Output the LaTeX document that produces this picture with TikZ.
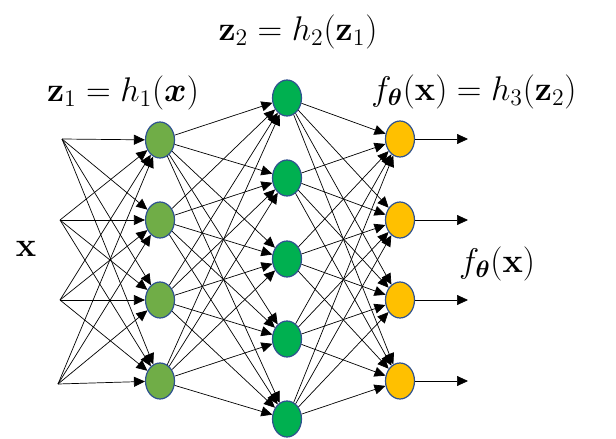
\documentclass[tikz,border=0pt]{standalone}
\usepackage{amsmath}
\usetikzlibrary{shapes.geometric,arrows.meta}

\definecolor{rimblue}{RGB}{47,82,143}
\definecolor{hidgreen}{RGB}{112,173,71}
\definecolor{midgreen}{RGB}{0,176,80}
\definecolor{outgold}{RGB}{255,192,0}

\tikzset{
  neuron/.style={ellipse, draw=rimblue, line width=1.2pt, minimum width=29pt, minimum height=36pt, inner sep=0pt},
  link/.style={-{Triangle[length=11pt,width=10pt]}, line width=0.7pt},
  lbl/.style={font=\fontsize{22}{26}\selectfont, scale=1.65, inner sep=0pt}
}

\begin{document}
\begin{tikzpicture}[x=1pt,y=-1pt]  % 以像素为单位, y 轴向下

    \useasboundingbox (0,0) rectangle (616,439);

    % 输入点
    \coordinate (in1) at (62,139);
    \coordinate (in2) at (60,220);
    \coordinate (in3) at (60,300);
    \coordinate (in4) at (58,384);

    % 第一隐藏层
    \node[neuron, fill=hidgreen] (a1) at (160,140) {};
    \node[neuron, fill=hidgreen] (a2) at (160,220) {};
    \node[neuron, fill=hidgreen] (a3) at (160,300) {};
    \node[neuron, fill=hidgreen] (a4) at (160,381) {};

    % 第二隐藏层
    \node[neuron, fill=midgreen] (b1) at (287,98) {};
    \node[neuron, fill=midgreen] (b2) at (287,178) {};
    \node[neuron, fill=midgreen] (b3) at (287,259) {};
    \node[neuron, fill=midgreen] (b4) at (287,339) {};
    \node[neuron, fill=midgreen] (b5) at (287,419) {};

    % 输出层
    \node[neuron, fill=outgold] (c1) at (400,139) {};
    \node[neuron, fill=outgold] (c2) at (400,220) {};
    \node[neuron, fill=outgold] (c3) at (400,300) {};
    \node[neuron, fill=outgold] (c4) at (400,381) {};

    % 输出箭头终点
    \coordinate (out1) at (468,139);
    \coordinate (out2) at (468,220);
    \coordinate (out3) at (468,300);
    \coordinate (out4) at (468,381);

    % 连线
    \foreach \i in {1,...,4} \foreach \j in {1,...,4} \draw[link] (in\i) -- (a\j);
    \foreach \i in {1,...,4} \foreach \j in {1,...,5} \draw[link] (a\i) -- (b\j);
    \foreach \i in {1,...,5} \foreach \j in {1,...,4} \draw[link] (b\i) -- (c\j);
    \foreach \i in {1,...,4} \draw[link] (c\i) -- (out\i);

    % 标签
    \node[lbl] (lblz2) at (298,32) {$\mathbf{z}_2 = h_2(\mathbf{z}_1)$};
    \node[lbl] (lblz1) at (123,93) {$\mathbf{z}_1 = h_1(\boldsymbol{x})$};
    \node[lbl] (lblf) at (474,92) {$f_{\boldsymbol{\theta}}(\mathbf{x}) = h_3(\mathbf{z}_2)$};
    \node[lbl] (lblout) at (497,264) {$f_{\boldsymbol{\theta}}(\mathbf{x})$};
    \node[lbl] (lblx) at (26,249) {$\mathbf{x}$};

\end{tikzpicture}
\end{document}
